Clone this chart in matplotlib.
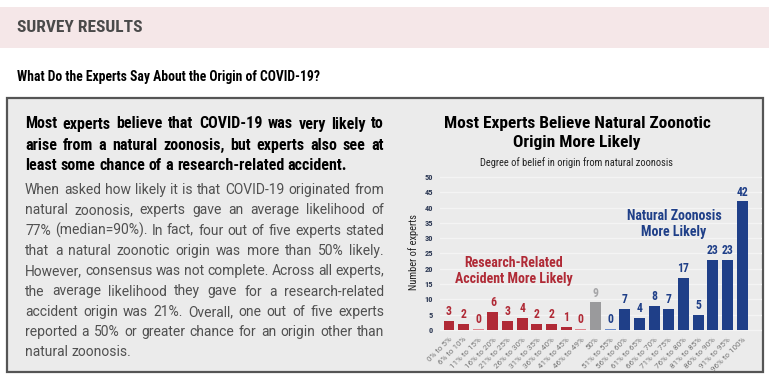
import matplotlib
matplotlib.use("Agg")
import matplotlib.pyplot as plt
from matplotlib import font_manager as fm
from matplotlib.patches import Rectangle

W, H = 769, 376

categories = ["0% to 5%", "6% to 10%", "11% to 15%", "16% to 20%", "21% to 25%",
              "26% to 30%", "31% to 35%", "36% to 40%", "41% to 45%", "46% to 49%",
              "50%", "51% to 55%", "56% to 60%", "61% to 65%", "66% to 70%",
              "71% to 75%", "76% to 80%", "81% to 85%", "86% to 90%", "91% to 95%",
              "96% to 100%"]
counts = [3, 2, 0, 6, 3, 4, 2, 2, 1, 0, 9, 0, 7, 4, 8, 7, 17, 5, 23, 23, 42]
groups = ["lab"] * 10 + ["mid"] + ["nat"] * 10
yticks = [0, 5, 10, 15, 20, 25, 30, 35, 40, 45, 50]

header = "SURVEY RESULTS"
question = "What Do the Experts Say About the Origin of COVID-19?"
lead_lines = ["Most experts believe that COVID-19 was very likely to",
              "arise from a natural zoonosis, but experts also see at",
              "least some chance of a research-related accident."]
body_lines = ["When asked how likely it is that COVID-19 originated from",
              "natural zoonosis, experts gave an average likelihood of",
              "77% (median=90%). In fact, four out of five experts stated",
              "that a natural zoonotic origin was more than 50% likely.",
              "However, consensus was not complete. Across all experts,",
              "the average likelihood they gave for a research-related",
              "accident origin was 21%. Overall, one out of five experts",
              "reported a 50% or greater chance for an origin other than",
              "natural zoonosis."]
chart_title = "Most Experts Believe Natural Zoonotic\nOrigin More Likely"
chart_sub = "Degree of belief in origin from natural zoonosis"
lab_note = "Research-Related\nAccident More Likely"
nat_note = "Natural Zoonosis\nMore Likely"

avail = {f.name for f in fm.fontManager.ttflist}
def pick(*names):
    for n in names:
        if n in avail:
            return n
    return "DejaVu Sans"

COND = pick("Roboto Condensed", "Liberation Sans Narrow", "DejaVu Sans Condensed", "Roboto")
BODY = pick("Roboto", "Open Sans", "DejaVu Sans")

RED = "#b02a36"
RED_LIGHT = "#e0858d"
BLUE = "#1f3f88"
BLUE_LIGHT = "#6b8bc9"
GRAY = "#9a9a9c"
BG = "#ebebeb"

fig = plt.figure(figsize=(W / 100, H / 100), dpi=100)
fig.patch.set_facecolor("white")

def fx(px):
    return px / W

def fy(py):
    return 1 - py / H

# header band
fig.patches.append(Rectangle((0, fy(48)), 1, (48 - 7) / H, transform=fig.transFigure,
                             facecolor="#f5e7e8", edgecolor="none", zorder=-5))
fig.text(fx(17), fy(28), header, fontsize=12.5, fontweight="bold", color="#4a4a4a",
         family=COND, va="center", ha="left")
fig.text(fx(17), fy(77), question, fontsize=9.8, fontweight="bold", color="black",
         family=COND, va="center", ha="left")

# gray box
fig.patches.append(Rectangle((fx(7), fy(372)), fx(763) - fx(7), (372 - 98) / H,
                             transform=fig.transFigure, facecolor=BG,
                             edgecolor="#555555", linewidth=1.6, zorder=-5))

renderer = fig.canvas.get_renderer()

def justified(lines, x0, x1, y0, dy, justify_last=False, **kw):
    for li, line in enumerate(lines):
        words = line.split(" ")
        y = fy(y0 + li * dy)
        texts = [fig.text(0, y, w, va="center", ha="left", **kw) for w in words]
        widths = [t.get_window_extent(renderer).width for t in texts]
        last = li == len(lines) - 1
        if last and not justify_last:
            space = fig.text(0, 0, "a a", **kw)
            sw = space.get_window_extent(renderer).width
            a = fig.text(0, 0, "aa", **kw)
            sw -= a.get_window_extent(renderer).width
            space.remove(); a.remove()
            gap = sw
        else:
            gap = (x1 - x0 - sum(widths)) / max(len(words) - 1, 1)
        x = x0
        for t, w in zip(texts, widths):
            t.set_x(fx(x))
            x += w + gap

justified(lead_lines, 25, 384, 124, 21, fontsize=11.5, fontweight="bold",
          color="black", family=COND)
justified(body_lines, 25, 384, 190, 20.3, fontsize=10, fontweight="normal",
          color="#505050", family=BODY)

# chart titles
fig.text(fx(577), fy(133), chart_title, fontsize=12.5, fontweight="bold",
         color="black", family=COND, ha="center", va="center", linespacing=1.35)
fig.text(fx(577), fy(163), chart_sub, fontsize=7.5, color="#222222",
         family=COND, ha="center", va="center")

# axes
left_px, right_px, top_px, bot_px = 440, 762, 172, 332
ax = fig.add_axes([fx(left_px), fy(bot_px), (right_px - left_px) / W, (bot_px - top_px) / H])
ax.set_facecolor("none")
xs = list(range(len(categories)))
ax.set_xlim(-0.614, 21.36)
ax.set_ylim(-0.65, 51.6)

colors, label_colors, heights = [], [], []
for g, c in zip(groups, counts):
    if g == "lab":
        colors.append(RED if c > 0 else RED_LIGHT)
        label_colors.append(RED)
    elif g == "nat":
        colors.append(BLUE if c > 0 else BLUE_LIGHT)
        label_colors.append(BLUE)
    else:
        colors.append(GRAY)
        label_colors.append("#a5a5a7")
    heights.append(c if c > 0 else 0.45)

ax.bar(xs, heights, width=0.75, color=colors, zorder=3)
for x, c, h, lc in zip(xs, counts, heights, label_colors):
    ax.text(x, h + 0.9, str(c), ha="center", va="bottom", fontsize=8.5,
            fontweight="bold", color=lc, family=COND, zorder=4)

ax.set_yticks(yticks)
ax.set_yticklabels([str(v) for v in yticks], fontsize=6, fontweight="bold",
                   color="#2e3a55", family=COND)
ax.yaxis.grid(True, color="#f4f4f4", linewidth=1.0, zorder=0)
ax.tick_params(axis="y", length=0, pad=5)
ax.set_xticks(xs)
ax.set_xticklabels(categories, rotation=45, ha="right", va="top",
                   rotation_mode="anchor", fontsize=5.8, color="#777777", family=BODY)
ax.tick_params(axis="x", length=0, pad=3)
for s in ax.spines.values():
    s.set_visible(False)
ax.set_ylabel("Number of experts", fontsize=7.5, color="#222222", family=COND, labelpad=4)

ax.text(4.4, 19.2, lab_note, ha="center", va="center", fontsize=10,
        fontweight="bold", color=RED, family=COND, linespacing=1.2)
ax.text(15.35, 34.5, nat_note, ha="center", va="center", fontsize=10,
        fontweight="bold", color=BLUE, family=COND, linespacing=1.2)

fig.savefig("out.png", dpi=100, facecolor=fig.get_facecolor())
